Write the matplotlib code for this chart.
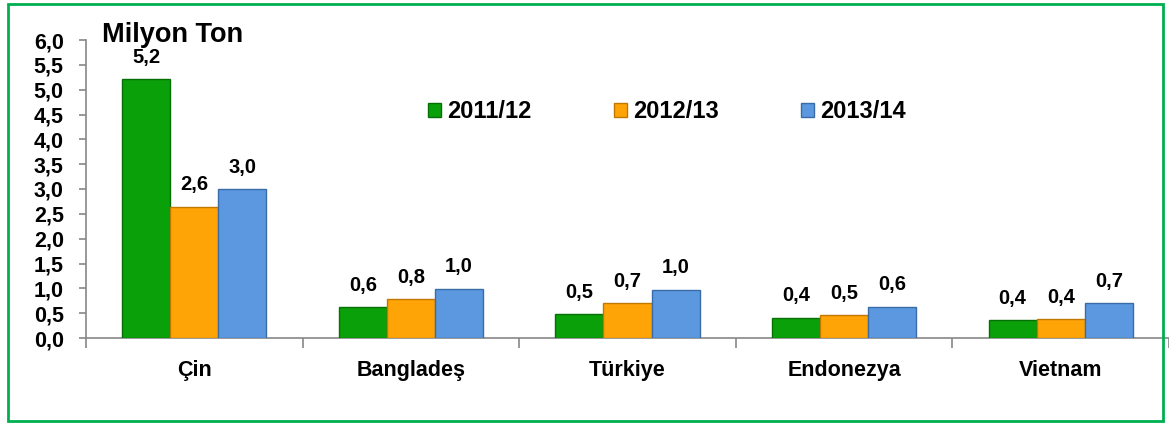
import numpy as np
import matplotlib
matplotlib.use("Agg")
import matplotlib.pyplot as plt
from matplotlib.patches import Rectangle

# data (million tonnes)
countries = ["Çin", "Bangladeş", "Türkiye", "Endonezya", "Vietnam"]
seasons = ["2011/12", "2012/13", "2013/14"]
v_2011 = [5.21, 0.62, 0.48, 0.41, 0.36]
v_2012 = [2.64, 0.78, 0.70, 0.46, 0.38]
v_2013 = [3.00, 0.99, 0.97, 0.63, 0.70]
y_ticks = [0.0, 0.5, 1.0, 1.5, 2.0, 2.5, 3.0, 3.5, 4.0, 4.5, 5.0, 5.5, 6.0]

colors = ["#0AA00A", "#FFA406", "#5B98DF"]
edges = ["#067006", "#C07800", "#3A6CA8"]

plt.rcParams["font.family"] = ["Liberation Sans", "DejaVu Sans"]
plt.rcParams["font.weight"] = "bold"

fig = plt.figure(figsize=(11.69, 4.25), dpi=100)
ax = fig.add_axes([86 / 1169, 87 / 425, 1 - 86 / 1169, 298 / 425])

x = np.arange(len(countries))
width = 0.222
series = [v_2011, v_2012, v_2013]
for i, (vals, lab) in enumerate(zip(series, seasons)):
    pos = x + (i - 1) * width
    bars = ax.bar(pos, vals, width, color=colors[i], edgecolor=edges[i],
                  linewidth=1, label=lab, zorder=3)
    for b, v in zip(bars, vals):
        ax.annotate(f"{v:.1f}".replace(".", ","),
                    (b.get_x() + b.get_width() / 2, v),
                    xytext=(0, 9), textcoords="offset points",
                    ha="center", va="bottom", fontsize=14.5, fontweight="bold")

ax.set_xlim(-0.5, len(countries) - 0.5)
ax.set_ylim(0, 6)
ax.set_yticks(y_ticks)
ax.set_yticklabels([f"{t:.1f}".replace(".", ",") for t in y_ticks],
                   fontsize=15.5, fontweight="bold")
ax.set_xticks(x)
ax.set_xticklabels(countries, fontsize=15.5, fontweight="bold")
ax.set_xticks(np.arange(-0.5, len(countries), 1.0), minor=True)
ax.tick_params(axis="x", which="major", length=0, pad=16)
ax.tick_params(axis="x", which="minor", length=7, color="#888888", width=1.2)
ax.tick_params(axis="y", length=5, color="#888888", width=1.2, pad=11)

for s in ["top", "right"]:
    ax.spines[s].set_visible(False)
for s in ["left", "bottom"]:
    ax.spines[s].set_color("#888888")
    ax.spines[s].set_linewidth(1.2)

ax.text(0.015, 1.017, "Milyon Ton", transform=ax.transAxes,
        fontsize=19.5, fontweight="bold", va="center", ha="left")

fig.legend(loc="center", bbox_to_anchor=(667 / 1169, 1 - 112 / 425),
           ncol=3, frameon=False, handlelength=0.55,
           handleheight=0.55, handletextpad=0.25, columnspacing=3.5,
           prop={"weight": "bold", "size": 17})

fig.patches.append(Rectangle((8 / 1169, 4 / 425), 1155 / 1169, 417 / 425,
                             transform=fig.transFigure, fill=False,
                             edgecolor="#00B050", linewidth=2))

fig.savefig("out.png", dpi=100)
